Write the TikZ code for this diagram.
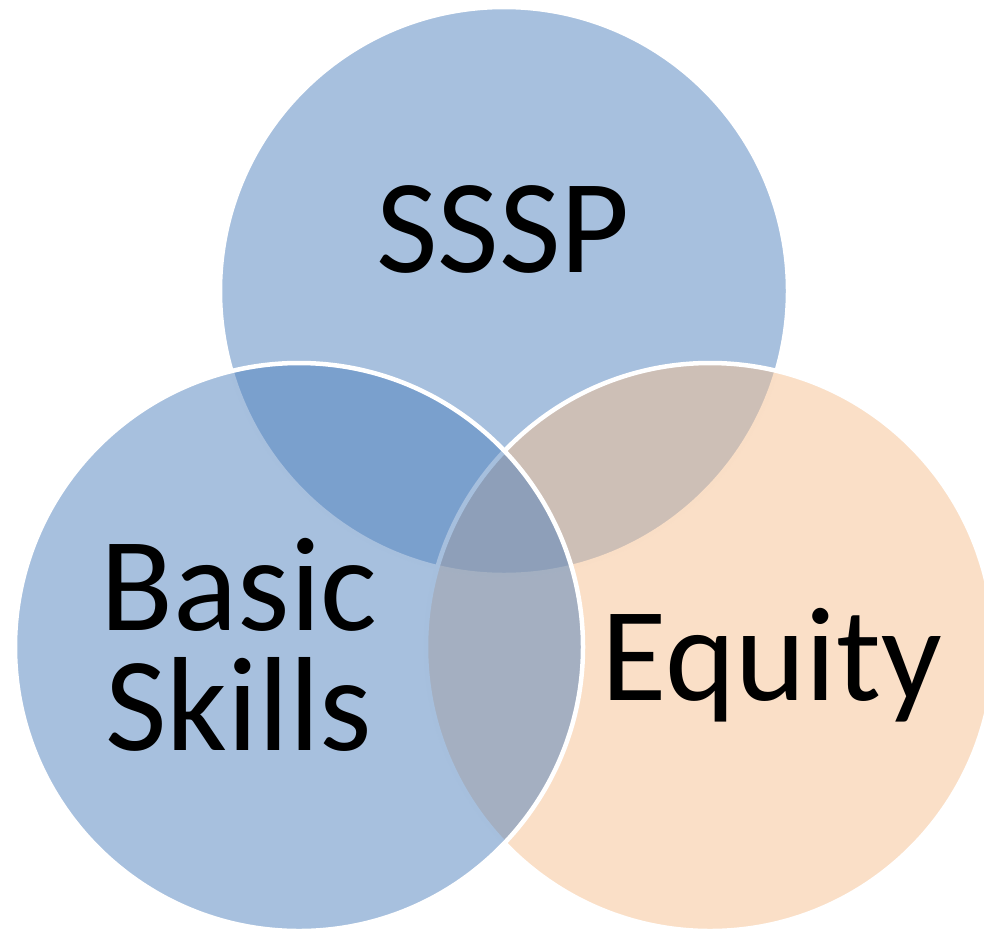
\documentclass[tikz,border=0pt]{standalone}
\usepackage{fontspec}
\setmainfont{Carlito}
\definecolor{vblue}{RGB}{79,129,189}
\definecolor{vorange}{RGB}{245,191,143}
\begin{document}
\begin{tikzpicture}[x=1pt,y=-1pt,
  circ/.style={circle, minimum size=568pt, inner sep=0pt, draw=white, line width=4.5pt, fill opacity=0.5},
  lab/.style={font=\fontsize{134}{120}\selectfont, text=black, inner sep=0pt}]
\useasboundingbox (0,0) rectangle (984,932);
\clip (0,0) rectangle (984,932);
\node[circ, fill=vblue] (top) at (504,291) {};
\node[circ, fill=vorange] (right) at (710,647) {};
\node[circ, fill=vblue] (left) at (299,647) {};
\node[lab, anchor=base] (sssp) at (503,272) {SSSP};
\node[lab, anchor=base] (equity) at (772,700) {Equity};
\node[lab, align=center, anchor=base] (basic) at (239,750) {Basic\\Skills};
\end{tikzpicture}
\end{document}
